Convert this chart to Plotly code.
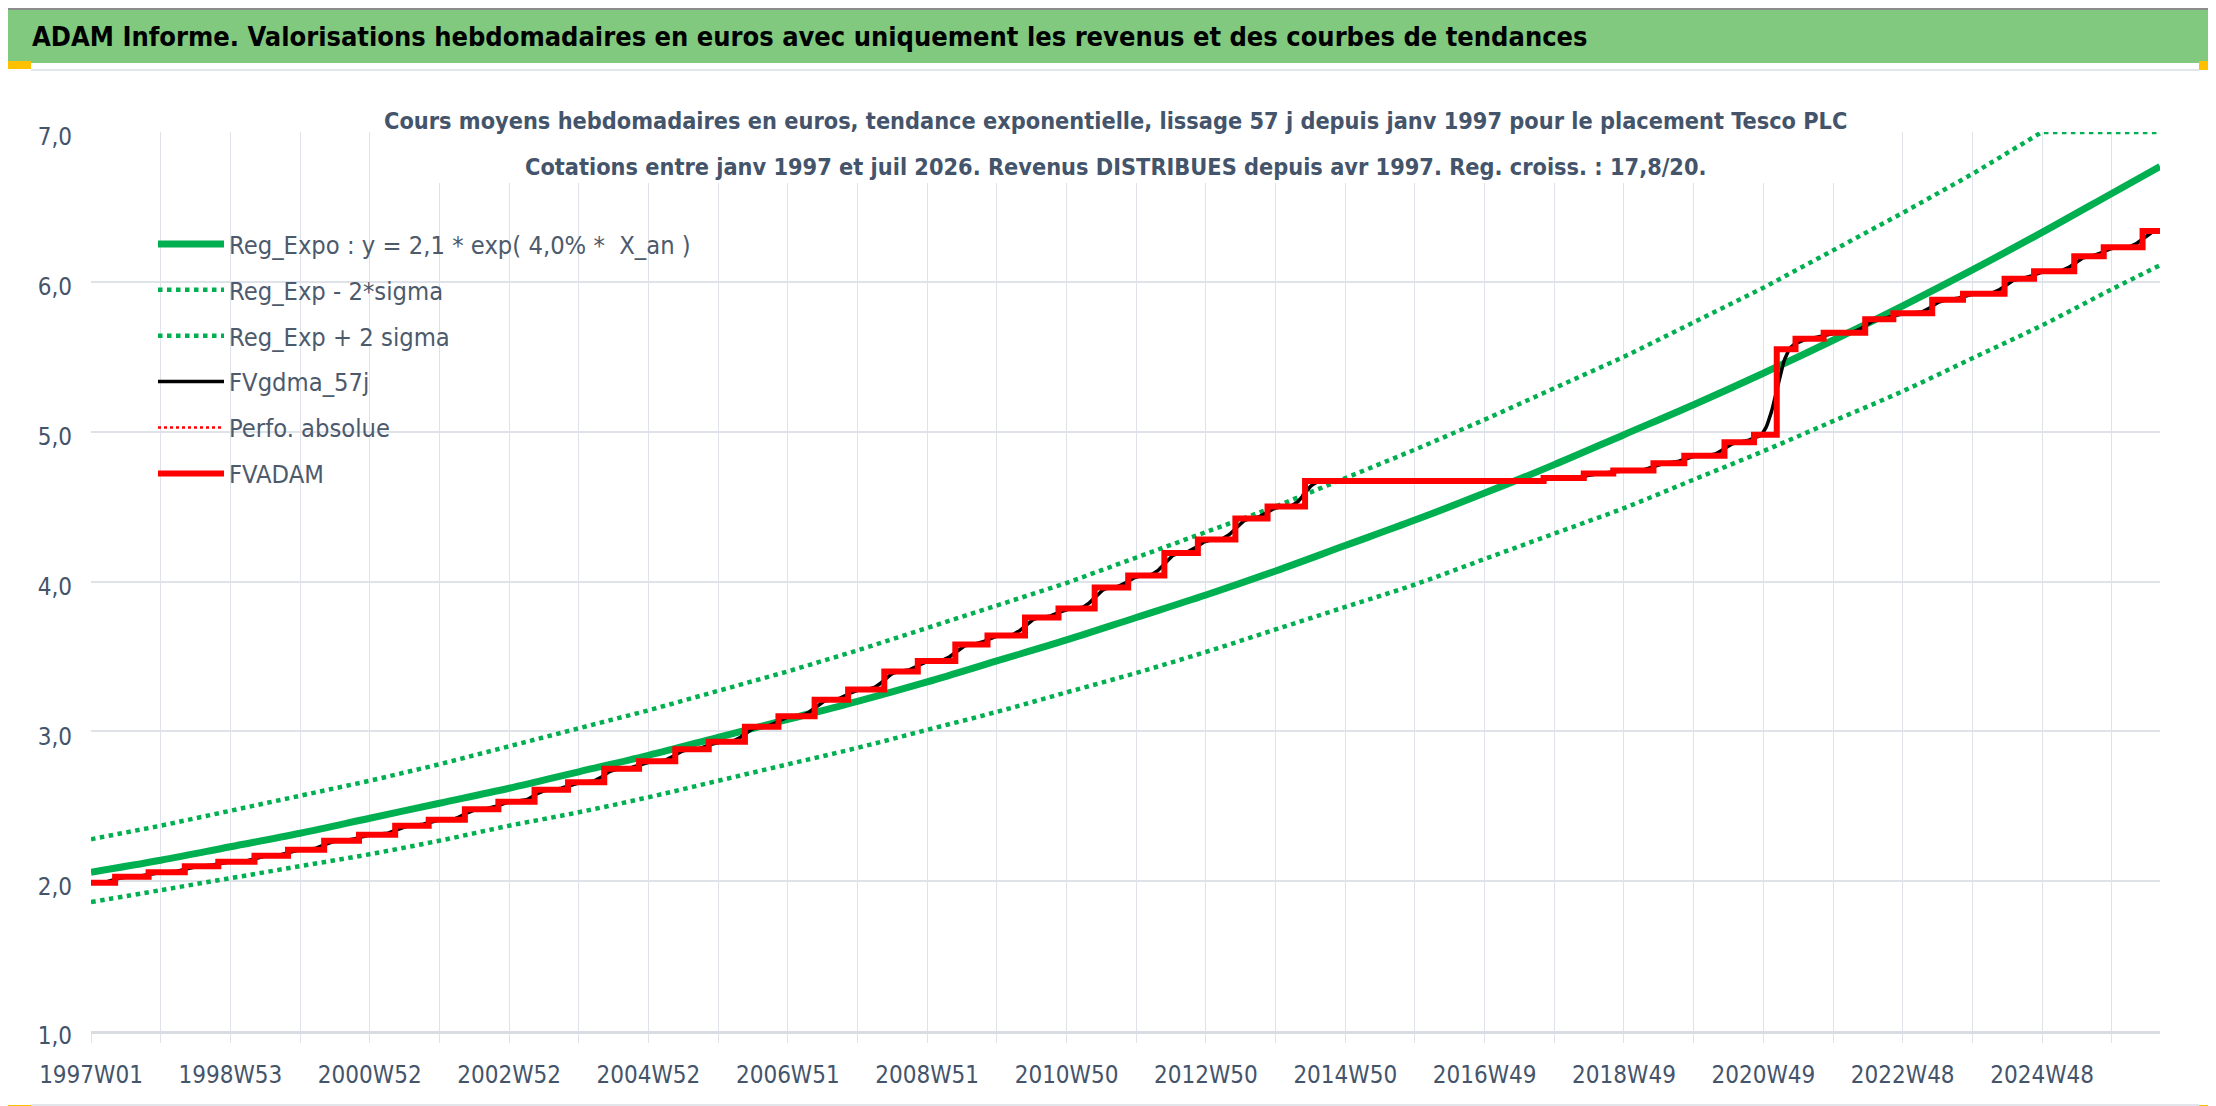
import numpy as np
import pandas as pd
import plotly.graph_objects as go

# ---- data ----
n_weeks = 1545  # 1997W01 .. 2026W29, one point per week

tick_labels = ['1997W01', '1998W53', '2000W52', '2002W52', '2004W52', '2006W51',
               '2008W51', '2010W50', '2012W50', '2014W50', '2016W49', '2018W49',
               '2020W49', '2022W48', '2024W48']

# trend curves, one value per 52 weeks plus the last week
trend_weeks = [0, 52, 104, 156, 208, 260, 312, 364, 416, 468, 520, 572, 624, 676, 728,
               780, 832, 884, 936, 988, 1040, 1092, 1144, 1196, 1248, 1300, 1352, 1404,
               1456, 1508, 1544]
reg_expo = [2.06, 2.14, 2.23, 2.32, 2.42, 2.52, 2.62, 2.73, 2.84, 2.96, 3.08, 3.20, 3.33,
            3.47, 3.61, 3.76, 3.91, 4.07, 4.24, 4.41, 4.59, 4.78, 4.98, 5.18, 5.39, 5.61,
            5.84, 6.08, 6.33, 6.59, 6.77]
reg_minus = [1.86, 1.94, 2.02, 2.10, 2.18, 2.27, 2.37, 2.46, 2.56, 2.67, 2.78, 2.89, 3.01,
             3.13, 3.26, 3.39, 3.53, 3.68, 3.83, 3.98, 4.15, 4.32, 4.49, 4.68, 4.87, 5.07,
             5.27, 5.49, 5.71, 5.95, 6.11]
reg_plus = [2.28, 2.37, 2.47, 2.57, 2.67, 2.78, 2.90, 3.02, 3.14, 3.27, 3.40, 3.54, 3.69,
            3.84, 3.99, 4.16, 4.33, 4.50, 4.69, 4.88, 5.08, 5.29, 5.50, 5.73, 5.96, 6.21,
            6.46, 6.72, 7.00, 7.00, 7.00]

# FVADAM staircase: week index where a new level starts, and that level
step_weeks = [0, 18, 43, 70, 95, 122, 147, 174, 200, 227, 252, 279, 304, 331, 356, 383,
              409, 436, 461, 488, 513, 540, 565, 592, 617, 645, 669, 697, 722, 749, 774,
              801, 826, 854, 878, 906, 1084, 1114, 1136, 1166, 1189, 1219, 1241, 1258,
              1272, 1293, 1324, 1345, 1374, 1397, 1428, 1450, 1480, 1502, 1531, 1544]
step_values = [1.99, 2.03, 2.06, 2.10, 2.13, 2.17, 2.21, 2.27, 2.31, 2.37, 2.41, 2.48, 2.53,
               2.61, 2.66, 2.75, 2.80, 2.88, 2.93, 3.03, 3.10, 3.21, 3.28, 3.40, 3.47, 3.58,
               3.64, 3.76, 3.82, 3.96, 4.04, 4.19, 4.28, 4.42, 4.50, 4.67, 4.69, 4.72, 4.74,
               4.79, 4.84, 4.93, 4.98, 5.55, 5.62, 5.66, 5.75, 5.79, 5.88, 5.92, 6.02, 6.07,
               6.17, 6.23, 6.34, 6.34]

# FVgdma_57j: smoothed FVADAM (weekly staircase, centered moving average)
weeks = np.arange(n_weeks)
fvadam_weekly = np.array(step_values)[np.searchsorted(step_weeks, weeks, side='right') - 1]
fv_smooth = (pd.Series(fvadam_weekly)
             .rolling(13, center=True, min_periods=1).mean()
             .rolling(13, center=True, min_periods=1).mean())

# ---- geometry helpers (pixel -> paper) ----
W, H = 2216, 1106
L, R, T, B = 83, 64, 124, 83
PW, PH = W - L - R, H - T - B


def px(x):
    return (x - L) / PW


def py(y):
    return (H - B - y) / PH


FONT = "DejaVu Sans Condensed, DejaVu Sans, sans-serif"
SLATE = '#44546A'
GREEN = '#00B050'
GRID = '#DFE2E8'

fig = go.Figure()

fig.add_trace(go.Scatter(x=trend_weeks, y=reg_expo, mode='lines', line_shape='spline',
                         name='Reg_Expo : y = 2,1 * exp( 4,0% *  X_an )',
                         line=dict(color=GREEN, width=7), legendgroup='a'))
fig.add_trace(go.Scatter(x=trend_weeks, y=reg_minus, mode='lines', line_shape='spline',
                         name='Reg_Exp - 2*sigma',
                         line=dict(color=GREEN, width=4.5, dash='dot'), legendgroup='b'))
fig.add_trace(go.Scatter(x=trend_weeks, y=reg_plus, mode='lines', cliponaxis=False,
                         name='Reg_Exp + 2 sigma',
                         line=dict(color=GREEN, width=4.5, dash='dot'), legendgroup='c'))
fig.add_trace(go.Scatter(x=weeks, y=fv_smooth, mode='lines', name='FVgdma_57j',
                         line=dict(color='black', width=3.5), legendgroup='d'))
fig.add_trace(go.Scatter(x=[None], y=[None], mode='lines', name='Perfo. absolue',
                         line=dict(color='#FF0000', width=2.5, dash='dot'), legendgroup='e'))
fig.add_trace(go.Scatter(x=step_weeks, y=step_values, mode='lines', line_shape='hv',
                         name='FVADAM', line=dict(color='#FF0000', width=6), legendgroup='f'))

tickvals = list(range(0, 1509, 52))
ticktext = [tick_labels[i // 2] if i % 2 == 0 else '' for i in range(len(tickvals))]

fig.update_xaxes(range=[0, n_weeks - 1], tickmode='array', tickvals=tickvals, ticktext=ticktext,
                 showgrid=True, gridcolor=GRID, gridwidth=1.2,
                 ticks='outside', ticklen=9, tickcolor=GRID, tickwidth=1.2,
                 showline=True, linecolor='#D9DCE2', linewidth=2.5,
                 zeroline=False, tickangle=0, ticklabelstandoff=11,
                 tickfont=dict(family=FONT, size=24, color=SLATE))
fig.update_yaxes(range=[1, 7], dtick=1, tick0=1, tickformat='.1f',
                 showgrid=True, gridcolor=GRID, gridwidth=2,
                 showline=False, zeroline=False, ticks='',
                 ticklabelstandoff=18, ticklabelshift=5,
                 tickfont=dict(family=FONT, size=24, color=SLATE))

shapes = []


def rect(x0, y0, x1, y1, color, layer='below'):
    shapes.append(dict(type='rect', xref='paper', yref='paper', layer=layer,
                       x0=px(x0), x1=px(x1), y0=py(y1), y1=py(y0),
                       fillcolor=color, line=dict(width=0)))


rect(0, 0, W, 2, '#8C8C8C')
rect(0, 2, 2213, 55, '#80C97F')
rect(23, 61, 2191, 63, '#E2E5EA')
rect(2208, 63, 2210, 1062, '#E2E5EA')
rect(23, 1096, 2191, 1098, '#E2E5EA')
rect(0, 1104, W, H, '#8C8C8C')
rect(2214, 0, W, H, '#8C8C8C')
rect(0, 53, 23, 61, '#FFC000')
rect(2191, 53, 2213, 62, '#FFC000')
rect(2209, 53, 2213, 72, '#FFC000')
rect(2209, 1062, 2213, 1100, '#FFC000')
rect(2191, 1097, 2213, 1104, '#FFC000')
rect(0, 1097, 23, 1104, '#FFC000')
# white box behind the subtitle (hides the gridlines there)
rect(362, 88, 1840, 175, 'white', layer='above')

annotations = [
    dict(text='<b>ADAM Informe. Valorisations hebdomadaires en euros avec uniquement les revenus '
              'et des courbes de tendances</b>',
         x=px(22), y=py(29), xref='paper', yref='paper', xanchor='left', yanchor='middle',
         showarrow=False, font=dict(family=FONT, size=27, color='black')),
    dict(text='<b>Cours moyens hebdomadaires en euros, tendance exponentielle, lissage 57 j '
              'depuis janv 1997 pour le placement Tesco PLC</b>',
         x=px(1107), y=py(112), xref='paper', yref='paper', xanchor='center', yanchor='middle',
         showarrow=False, font=dict(family=FONT, size=23.3, color=SLATE)),
    dict(text='<b>Cotations entre janv 1997 et juil 2026. Revenus DISTRIBUES depuis avr 1997. '
              'Reg. croiss. : 17,8/20.</b>',
         x=px(1108), y=py(158), xref='paper', yref='paper', xanchor='center', yanchor='middle',
         showarrow=False, font=dict(family=FONT, size=23.3, color=SLATE)),
]

fig.update_layout(
    width=W, height=H, autosize=False,
    margin=dict(l=L, r=R, t=T, b=B, pad=0),
    paper_bgcolor='white', plot_bgcolor='white',
    separators=', ',
    showlegend=True,
    legend=dict(x=px(145), y=py(213), xanchor='left', yanchor='top',
                bgcolor='rgba(0,0,0,0)', itemwidth=66, tracegroupgap=10,
                font=dict(family=FONT, size=25.3, color='#4D5A6C')),
    shapes=shapes, annotations=annotations,
)

fig.write_html("out.html")
